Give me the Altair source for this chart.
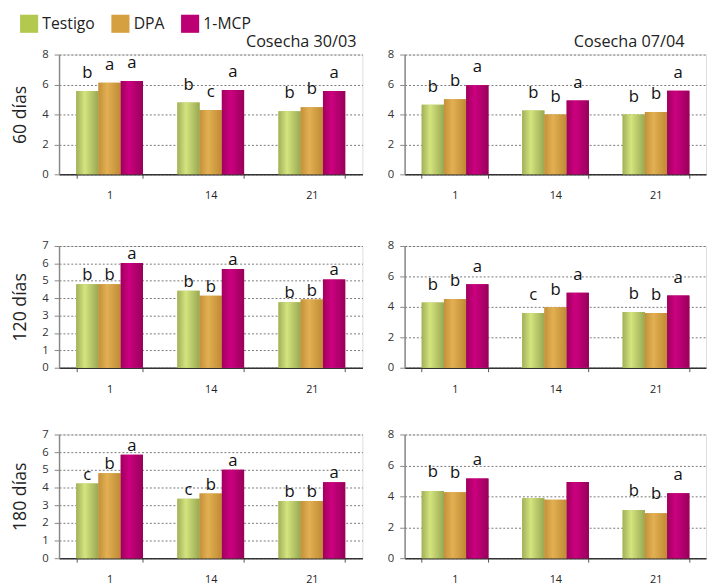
import altair as alt
import pandas as pd

F = "Open Sans"

days = ["1", "14", "21"]
series = ["Testigo", "DPA", "1-MCP"]
legend_colors = ["#b2c84e", "#d4a040", "#bc0074"]

# letters listed day by day, each day in order Testigo, DPA, 1-MCP
# 60 días - Cosecha 30/03
t60_a = [5.57, 4.80, 4.22]
d60_a = [6.12, 4.30, 4.48]
m60_a = [6.23, 5.64, 5.57]
l60_a = ["b", "a", "a", "b", "c", "a", "b", "b", "a"]
# 60 días - Cosecha 07/04
t60_b = [4.65, 4.27, 4.00]
d60_b = [5.02, 4.00, 4.16]
m60_b = [5.95, 4.93, 5.58]
l60_b = ["b", "b", "a", "b", "b", "a", "b", "b", "a"]
# 120 días - Cosecha 30/03
t120_a = [4.80, 4.42, 3.76]
d120_a = [4.80, 4.14, 3.92]
m120_a = [6.02, 5.68, 5.08]
l120_a = ["b", "b", "a", "b", "b", "a", "b", "b", "a"]
# 120 días - Cosecha 07/04
t120_b = [4.29, 3.60, 3.67]
d120_b = [4.52, 3.97, 3.60]
m120_b = [5.48, 4.92, 4.75]
l120_b = ["b", "b", "a", "c", "b", "a", "b", "b", "a"]
# 180 días - Cosecha 30/03
t180_a = [4.22, 3.36, 3.23]
d180_a = [4.80, 3.66, 3.23]
m180_a = [5.85, 5.01, 4.30]
l180_a = ["c", "b", "a", "c", "b", "a", "b", "b", "a"]
# 180 días - Cosecha 07/04
t180_b = [4.35, 3.87, 3.12]
d180_b = [4.27, 3.78, 2.91]
m180_b = [5.16, 4.92, 4.20]
l180_b = ["b", "b", "a", "", "", "", "b", "b", "a"]


def grad(c_edge_l, c_light, c_edge_r):
    return alt.LinearGradient(
        gradient="linear", x1=0, x2=1, y1=0, y2=0,
        stops=[alt.GradientStop(offset=0, color=c_edge_l),
               alt.GradientStop(offset=0.38, color=c_light),
               alt.GradientStop(offset=1, color=c_edge_r)])


grads = {
    "Testigo": grad("#a2b05a", "#d4e47e", "#98a852"),
    "DPA": grad("#c4903a", "#e2b052", "#c08a34"),
    "1-MCP": grad("#a0005e", "#cc0080", "#98005a"),
}


def frame(t, d, m, letters):
    rows = []
    for i, day in enumerate(days):
        for j, (s, vals) in enumerate(zip(series, [t, d, m])):
            rows.append({"day": day, "series": s, "value": vals[i],
                         "letter": letters[i * 3 + j]})
    return pd.DataFrame(rows)


def panel(df, ymax, step, h, w, row_title=None, title=None, title_dx=0, dy=18):
    x = alt.X("day:N", sort=days, title=None,
              scale=alt.Scale(paddingInner=0.34, paddingOuter=0.17),
              axis=alt.Axis(labelAngle=0, tickBand="extent", tickSize=4,
                            tickColor="#555", domainColor="#333", domainWidth=1.5,
                            labelPadding=12, labelFontSize=11, labelFont=F,
                            labelColor="#222", grid=False))
    xo = alt.XOffset("series:N", sort=series,
                     scale=alt.Scale(domain=series, paddingInner=0, paddingOuter=0))
    ykw = dict(values=list(range(0, ymax + 1, step)), grid=True, gridDash=[2, 2],
               gridColor="#555", gridWidth=0.8, domainColor="#888", domainWidth=1.5,
               tickColor="#888", tickSize=5, labelPadding=6, labelFontSize=11.5,
               labelFont=F, labelColor="#333")
    if row_title:
        ykw.update(title=row_title, titleFontSize=18, titleFont=F,
                   titleFontWeight="normal", titleColor="#222", titlePadding=13)
    else:
        ykw.update(title=None)
    y = alt.Y("value:Q", scale=alt.Scale(domain=[0, ymax], nice=False),
              axis=alt.Axis(**ykw))
    base = alt.Chart(df).encode(x=x, xOffset=xo, y=y)
    solid = base.mark_bar().encode(
        color=alt.Color("series:N", sort=series,
                        scale=alt.Scale(domain=series, range=legend_colors),
                        legend=alt.Legend(orient="none", legendX=-40, legendY=-41,
                                          direction="horizontal", title=None,
                                          symbolType="square", symbolSize=340,
                                          symbolStrokeWidth=0, labelFontSize=16,
                                          labelFont=F, labelColor="#222",
                                          columnPadding=16, labelOffset=4)))
    glayers = [base.transform_filter(alt.datum.series == s).mark_bar(fill=grads[s])
               for s in series]
    text = base.mark_text(dy=-dy, fontSize=17, font=F, color="#111",
                          baseline="middle").encode(text="letter:N")
    props = dict(width=w, height=h)
    if title:
        props["title"] = alt.TitleParams(title, anchor="end", fontSize=16.5, font=F,
                                         fontWeight="normal", color="#222",
                                         dx=title_dx, offset=-2, frame="group")
    return alt.layer(solid, *glayers, text).properties(**props)


LW, RW, HS = 309, 307, 23

row1 = alt.hconcat(
    panel(frame(t60_a, d60_a, m60_a, l60_a), 8, 2, 122, LW, "60 días", "Cosecha 30/03", -6, 18),
    panel(frame(t60_b, d60_b, m60_b, l60_b), 8, 2, 122, RW, None, "Cosecha 07/04", -22, 18),
    spacing=HS).resolve_scale(y="independent", x="independent")
row2 = alt.hconcat(
    panel(frame(t120_a, d120_a, m120_a, l120_a), 7, 1, 124, LW, "120 días", dy=9),
    panel(frame(t120_b, d120_b, m120_b, l120_b), 8, 2, 124, RW, None, dy=18),
    spacing=HS).resolve_scale(y="independent", x="independent")
row3 = alt.hconcat(
    panel(frame(t180_a, d180_a, m180_a, l180_a), 7, 1, 126, LW, "180 días", dy=9),
    panel(frame(t180_b, d180_b, m180_b, l180_b), 8, 2, 126, RW, None, dy=19),
    spacing=HS).resolve_scale(y="independent", x="independent")

top = alt.vconcat(row1, row2, spacing=38).resolve_scale(y="independent", x="independent")
chart = alt.vconcat(top, row3, spacing=33).resolve_scale(
    y="independent", x="independent").properties(
    padding={"top": 1, "left": 2, "right": 0, "bottom": 0}).configure_view(
    stroke=None).configure(background="white")

chart.save("out.html", embed_options={"renderer": "svg", "actions": False})
